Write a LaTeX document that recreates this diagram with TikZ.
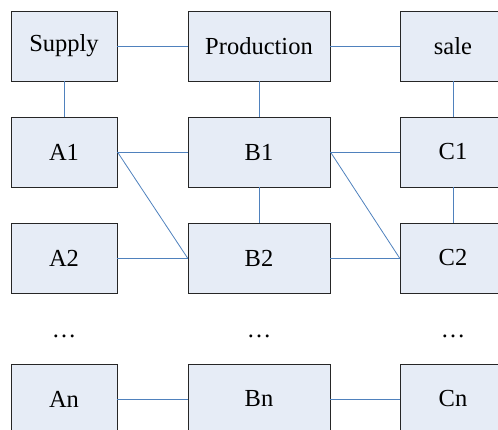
\documentclass[tikz,border=0pt]{standalone}
\usepackage{fontspec}
\setmainfont{Liberation Serif}
\definecolor{boxfill}{HTML}{E6ECF6}
\definecolor{linkblue}{HTML}{4F81BD}
\begin{document}
\begin{tikzpicture}[x=1pt,y=-1pt,
  box/.style={draw=black!85,line width=0.9pt,fill=boxfill,minimum height=70pt,inner sep=0pt,font=\fontsize{24.5}{28}\selectfont},
  sbox/.style={box,minimum width=106pt},
  wbox/.style={box,minimum width=142pt},
  link/.style={draw=linkblue,line width=0.8pt},
  dots/.style={font=\fontsize{24.5}{28}\selectfont}]
\useasboundingbox (0,0) rectangle (498,430);
\clip (0,0) rectangle (498,430);
\node[sbox] (sup) at (64,46) {Supply};
\node[wbox] (pro) at (259,46) {Production};
\node[sbox] (sal) at (453,46) {sale};
\node[sbox] (a1) at (64,152) {A1};
\node[wbox] (b1) at (259,152) {B1};
\node[sbox] (c1) at (453,152) {C1};
\node[sbox] (a2) at (64,258) {A2};
\node[wbox] (b2) at (259,258) {B2};
\node[sbox] (c2) at (453,258) {C2};
\node[dots] (da) at (64,336) {\dots};
\node[dots] (db) at (259,336) {\dots};
\node[dots] (dc) at (453,336) {\dots};
\node[sbox] (an) at (64,399) {An};
\node[wbox] (bn) at (259,399) {Bn};
\node[sbox] (cn) at (453,399) {Cn};
\draw[link] (sup) -- (pro);
\draw[link] (pro) -- (sal);
\draw[link] (sup) -- (a1);
\draw[link] (pro) -- (b1);
\draw[link] (sal) -- (c1);
\draw[link] (a1) -- (b1);
\draw[link] (a1.east) -- (b2.west);
\draw[link] (a2) -- (b2);
\draw[link] (b1) -- (b2);
\draw[link] (b1) -- (c1);
\draw[link] (b1.east) -- (c2.west);
\draw[link] (b2) -- (c2);
\draw[link] (c1) -- (c2);
\draw[link] (an) -- (bn);
\draw[link] (bn) -- (cn);
\end{tikzpicture}
\end{document}
